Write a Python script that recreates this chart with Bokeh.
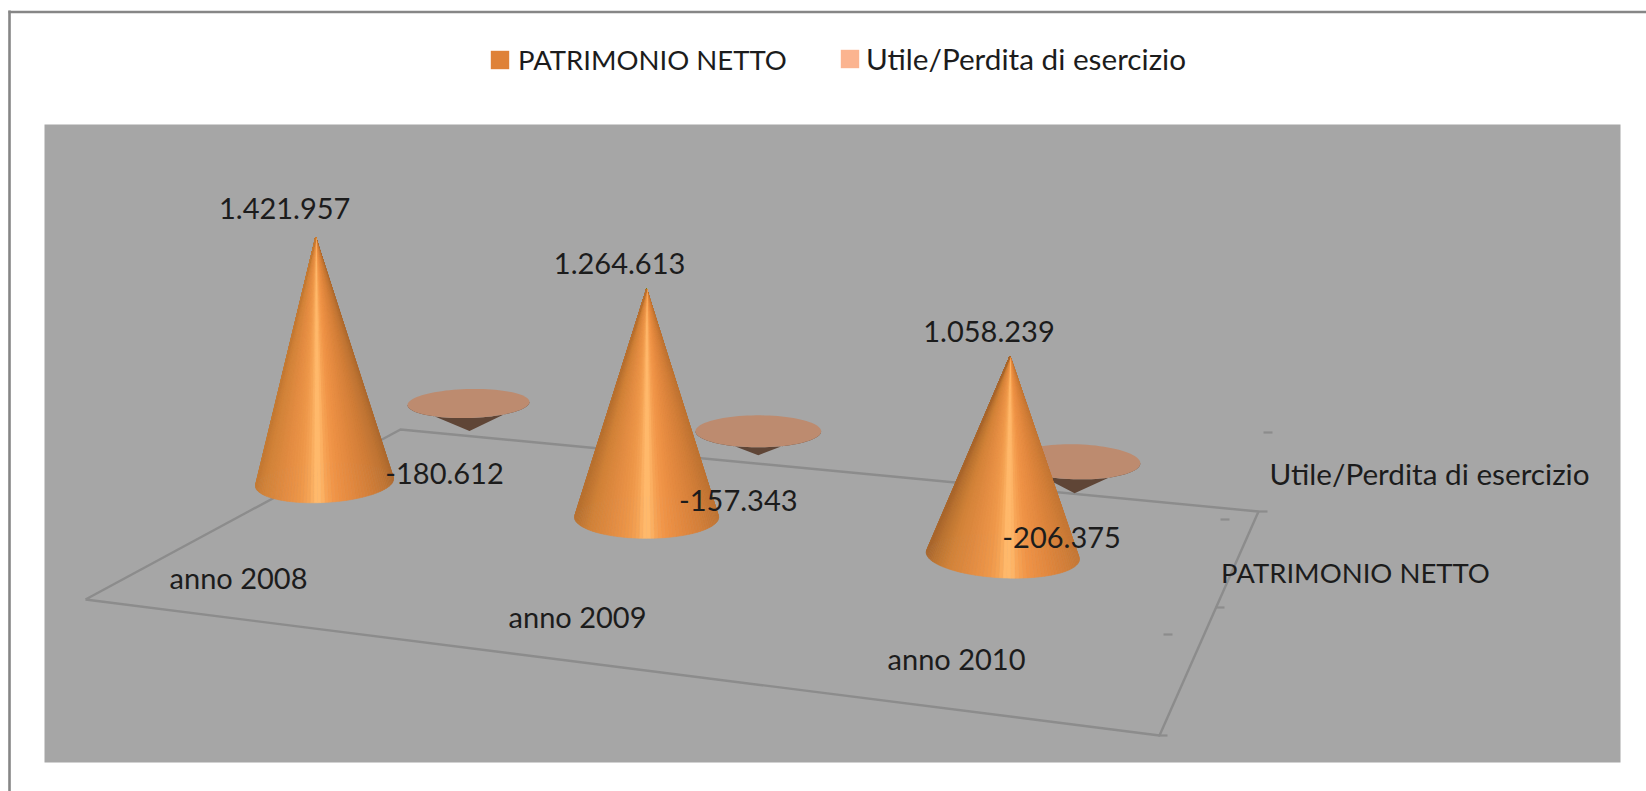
import numpy as np
from bokeh.plotting import figure
from bokeh.models import Range1d, Legend, LegendItem
from bokeh.core.properties import value
from bokeh.embed import file_html
from bokeh.resources import INLINE

# ---------- data ----------
categories = ["anno 2008", "anno 2009", "anno 2010"]
patrimonio_netto = [1421957, 1264613, 1058239]
utile_perdita = [-180612, -157343, -206375]
series_names = ["PATRIMONIO NETTO", "Utile/Perdita di esercizio"]
fmt_patrimonio = ["1.421.957", "1.264.613", "1.058.239"]
fmt_utile = ["-180.612", "-157.343", "-206.375"]

# ---------- look ----------
FONT = "Lato"
FS_NUM = "29px"
FS_LOW = "29.7px"
FS_CAP = "27.5px"
TXT = "#1c1c1c"
BG = "#a6a6a6"
LINE = "#8c8c8c"
FRAME = "#868686"

W, H = 1646, 791
p = figure(width=W, height=H, output_backend="svg", toolbar_location=None,
           x_range=Range1d(0, W), y_range=Range1d(H, 0),
           min_border=0, outline_line_color=None, background_fill_color="white",
           border_fill_color="white")
p.axis.visible = False
p.grid.visible = False


# Pseudo 3D camera: category index + series depth + value -> page position
def persp(i, c):
    return i * (1 + c * i)


def base(i, depth):
    if depth == 0:
        return 324 + 305.0 * persp(i, 0.056), 482 + 33.0 * persp(i, 0.056)
    return 468 + 276.0 * persp(i, 0.05), 403 + 26.5 * persp(i, 0.05)


def project(i, depth, v):
    cx, cy = base(i, depth)
    k = 1.723e-4 * (1 + 0.048 * i) if depth == 0 else 1.52e-4
    h = v * k
    skew = 0.036 * (i - 1)
    return cx + skew * h, cy - h


FRONT_RX = [69, 72, 76.5]


def radii(i, depth):
    if depth == 0:
        return FRONT_RX[i], 20 + i, 3.5 * (i - 1)
    return 61 * (1 + 0.03 * i), 14.5 + 1.5 * i, 1.5 * (i - 1)


def ellipse(i, depth, th):
    cx, cy = base(i, depth)
    rx, ry, tilt = radii(i, depth)
    return cx + rx * np.cos(th), cy + ry * np.sin(th) + tilt * np.cos(th)


STOP_U = [-1.15, -1.0, -0.8, -0.5, -0.25, -0.12, -0.04, 0.04, 0.12, 0.25, 0.55, 0.8, 1.0, 1.15]
STOP_C = ["#96592a", "#b87130", "#d18238", "#e28c42", "#ee9749", "#f6a556", "#ffb96b",
          "#ffb96b", "#f7a456", "#f09447", "#e0873e", "#d07d38", "#bf7433", "#a5652d"]
STOP_RGB = np.array([[int(c[k:k + 2], 16) for k in (1, 3, 5)] for c in STOP_C], float)


def shade(u):
    rgb = [np.interp(u, STOP_U, STOP_RGB[:, n]) for n in range(3)]
    return "#%02x%02x%02x" % tuple(int(round(c)) for c in rgb)


# ---------- frame, panel, floor ----------
p.quad(left=[44], right=[1620], top=[124], bottom=[762], fill_color=BG, line_color=None)
p.segment(x0=[9, 8], y0=[10, 11.5], x1=[9, W], y1=[H, 11.5], line_color=FRAME, line_width=2.6)

floor_x = [85, 400, 1258, 1159, 85]
floor_y = [599, 429, 511, 735, 599]
p.line(floor_x, floor_y, line_color=LINE, line_width=2.4)

tick_x = [1263, 1220, 1215, 1163, 1258, 1158]
tick_y = [432, 519, 607, 634, 511, 735]
p.segment(x0=tick_x, y0=tick_y, x1=[t + 9 for t in tick_x], y1=tick_y, line_color=LINE, line_width=2.2)

# ---------- back row: Utile/Perdita (inverted cones) ----------
N = 90
th = np.linspace(0, 2 * np.pi, N + 1)
for i, v in enumerate(utile_perdita):
    ex, ey = ellipse(i, 1, th)
    tx, ty = project(i, 1, v)
    lower = th[:N // 2 + 1]
    bx, by = ellipse(i, 1, lower)
    p.patch([tx] + list(bx), [ty] + list(by), fill_color="#5f4536", line_color=None)
    p.patch(list(ex), list(ey), fill_color="#bd8b6f", line_color=None)

# ---------- front row: Patrimonio netto (cones made of shaded slices) ----------
highlight = [-0.10, 0.0, 0.07]
M = 120
phi = np.linspace(0, 2 * np.pi, M + 1)
for i, v in enumerate(patrimonio_netto):
    ax, ay = project(i, 0, v)
    ex, ey = ellipse(i, 0, phi)
    cx, cy = base(i, 0)
    rx, ry, _ = radii(i, 0)
    xs, ys, cols = [], [], []
    order = list(range(M // 2, M)) + list(range(0, M // 2))  # back half first
    for k in order:
        xs.append([ax, ex[k], ex[k + 1]])
        ys.append([ay, ey[k], ey[k + 1]])
        u = (0.5 * (ex[k] + ex[k + 1]) - cx) / rx
        cols.append(shade(u - highlight[i]))
    p.patches(xs, ys, fill_color=cols, line_color=cols, line_width=0.6)


# ---------- texts ----------
def label(xs, ys, texts, size):
    p.text(xs, ys, text=texts, text_font=value(FONT), text_font_size=size, text_color=TXT,
           text_align="center", text_baseline="middle")


off_pos = [(-31, -28.5), (-27, -25), (-21, -25)]
off_neg = [(-25, 43), (-20, 45), (-13, 44)]
pos_pts = [project(i, 0, v) for i, v in enumerate(patrimonio_netto)]
neg_pts = [project(i, 1, v) for i, v in enumerate(utile_perdita)]
label([q[0] + o[0] for q, o in zip(pos_pts, off_pos)],
      [q[1] + o[1] for q, o in zip(pos_pts, off_pos)], fmt_patrimonio, FS_NUM)
label([q[0] + o[0] for q, o in zip(neg_pts, off_neg)],
      [q[1] + o[1] for q, o in zip(neg_pts, off_neg)], fmt_utile, FS_NUM)
label([238, 577, 956], [577, 616, 658], categories, FS_NUM)
label([1355], [572], [series_names[0]], FS_CAP)
label([1429], [472.5], [series_names[1]], FS_LOW)

# ---------- legend ----------
nan = float("nan")
r1 = p.quad(left=[nan], right=[nan], top=[nan], bottom=[nan], fill_color="#df8238", line_color=None)
r2 = p.quad(left=[nan], right=[nan], top=[nan], bottom=[nan], fill_color="#fbb490", line_color=None)
for r, name, lx, size, gap in [(r1, series_names[0], 488, FS_CAP, 7), (r2, series_names[1], 838, FS_LOW, 5)]:
    leg = Legend(items=[LegendItem(label=name, renderers=[r])],
                 orientation="horizontal", location=(lx, 715), margin=0, padding=0,
                 glyph_width=23, glyph_height=23, label_standoff=gap,
                 label_text_font=FONT, label_text_font_size=size, label_text_color=TXT,
                 background_fill_alpha=0, border_line_color=None, label_height=18)
    p.add_layout(leg, "center")

open("out.html", "w").write(file_html(p, INLINE))
